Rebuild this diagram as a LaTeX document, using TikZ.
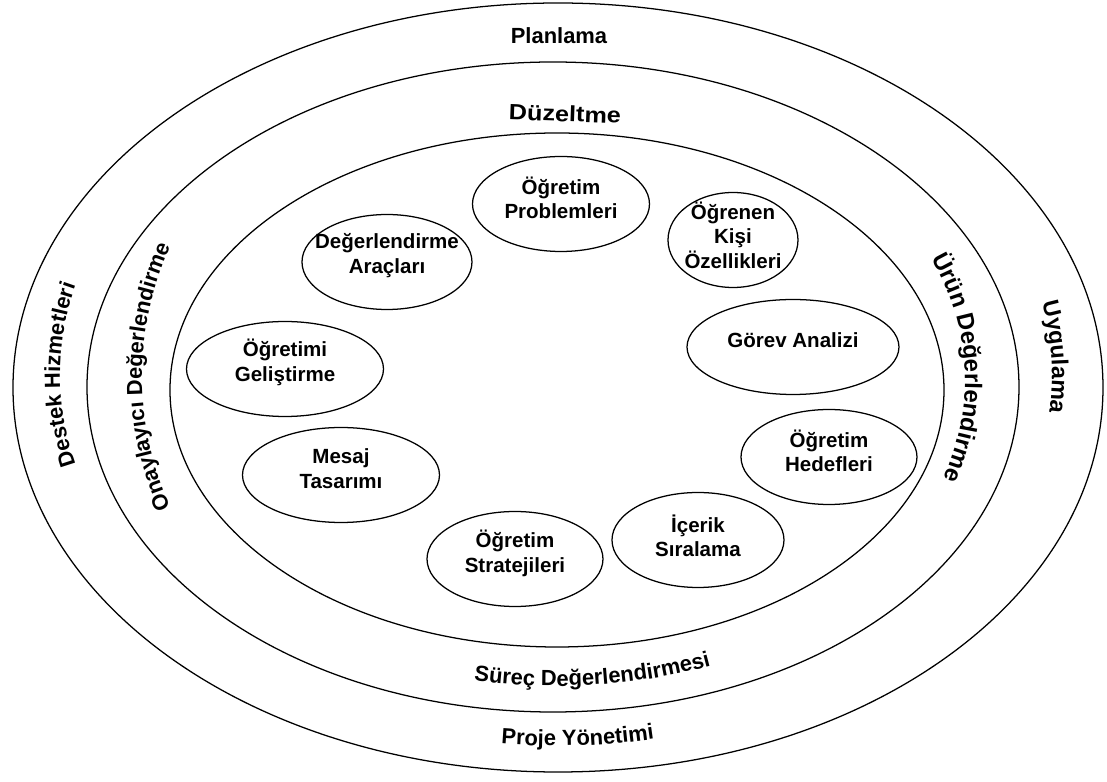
\documentclass[tikz,border=0pt]{standalone}
\usepackage{fontspec}
\setmainfont{Liberation Sans}
\usetikzlibrary{shapes.geometric,decorations.text}
\newcommand{\ringfont}{\fontsize{15.6}{18}\selectfont\bfseries}
\begin{document}
\begin{tikzpicture}[line width=0.9pt,
	bubble/.style={draw,ellipse,inner sep=0pt,minimum height=2.375cm},
	bubtext/.style={align=center,font=\fontsize{14.6}{17.4}\selectfont\bfseries},
	ringtext/.style={font=\ringfont}]
	\useasboundingbox (-13.875,-9.8) rectangle (13.8,9.75);
	\draw (0.075,0.0625) ellipse (13.625 and 9.6125);
	\draw (-0.05,0.075) ellipse (11.65 and 8.125);
	\draw (0.05,0) ellipse (9.675 and 6.425);
	\node[ringtext] (plan) at (0.1,8.86) {Planlama};
	\node[ringtext,rotate=-2,xscale=1.15] (duzelt) at (0.25,6.91) {Düzeltme};
	\path[decorate,decoration={text along path,text align=center,text={|\ringfont|Destek Hizmetleri}}]
		([shift={(0.075,0.375)}]220:12.45 and 9) arc[start angle=220,end angle=140,x radius=12.45,y radius=9];
	\path[decorate,decoration={text along path,text align=center,text={|\ringfont|Onaylayıcı Değerlendirme}}]
		([shift={(0,0.325)}]225:10.325 and 8.95) arc[start angle=225,end angle=135,x radius=10.325,y radius=8.95];
	\path[decorate,decoration={text along path,text align=center,text={|\fontsize{17}{19}\selectfont\bfseries|Ürün Değerlendirme}}]
		([shift={(0.05,0.25)}]52:10.2 and 7.7) arc[start angle=52,end angle=-48,x radius=10.2,y radius=7.7];
	\path[decorate,decoration={text along path,text align=center,text={|\fontsize{16.5}{19}\selectfont\bfseries|Uygulama}}]
		([shift={(0.05,0.375)}]42.4:12.375 and 9) arc[start angle=42.4,end angle=-37.6,x radius=12.375,y radius=9];
	\path[decorate,decoration={text along path,text align=center,text={|\ringfont|Süreç Değerlendirmesi}}]
		(240.6:10.75 and 7.4) arc[start angle=240.6,end angle=310.6,x radius=10.75,y radius=7.4];
	\path[decorate,decoration={text along path,text align=center,text={|\ringfont|Proje Yönetimi}}]
		([shift={(0,0.05)}]242.8:12.5 and 8.95) arc[start angle=242.8,end angle=302.8,x radius=12.5,y radius=8.95];
	\node[bubble,minimum width=4.425cm] (prob) at (0.15,4.65) {};
	\node[bubtext] (probt) at ([yshift=0.16cm]prob) {Öğretim\\Problemleri};
	\node[bubble,minimum width=3.25cm] (ogren) at (4.45,3.75) {};
	\node[bubtext] (ogrent) at ([yshift=0.12cm]ogren) {Öğrenen\\Kişi\\Özellikleri};
	\node[bubble,minimum width=4.25cm] (arac) at (-4.2,3.2) {};
	\node[bubtext] (aract) at ([yshift=0.16cm]arac) {Değerlendirme\\Araçları};
	\node[bubble,minimum width=5.3cm] (gorev) at (5.95,1.075) {};
	\node[bubtext] (gorevt) at ([yshift=0.16cm]gorev) {Görev Analizi};
	\node[bubble,minimum width=4.4cm] (hedef) at (6.85,-1.675) {};
	\node[bubtext] (hedeft) at ([yshift=0.16cm]hedef) {Öğretim\\Hedefleri};
	\node[bubble,minimum width=4.925cm] (gelis) at (-6.75,0.525) {};
	\node[bubtext] (gelist) at ([yshift=0.16cm]gelis) {Öğretimi\\Geliştirme};
	\node[bubble,minimum width=4.925cm] (mesaj) at (-5.35,-2.125) {};
	\node[bubtext] (mesajt) at ([yshift=0.16cm]mesaj) {Mesaj\\Tasarımı};
	\node[bubble,minimum width=4.3cm] (icerik) at (3.575,-3.75) {};
	\node[bubtext] (icerikt) at ([yshift=0.1cm]icerik) {İçerik\\Sıralama};
	\node[bubble,minimum width=4.4cm] (strat) at (-1.0,-4.225) {};
	\node[bubtext] (stratt) at ([yshift=0.14cm]strat) {Öğretim\\Stratejileri};
\end{tikzpicture}
\end{document}
